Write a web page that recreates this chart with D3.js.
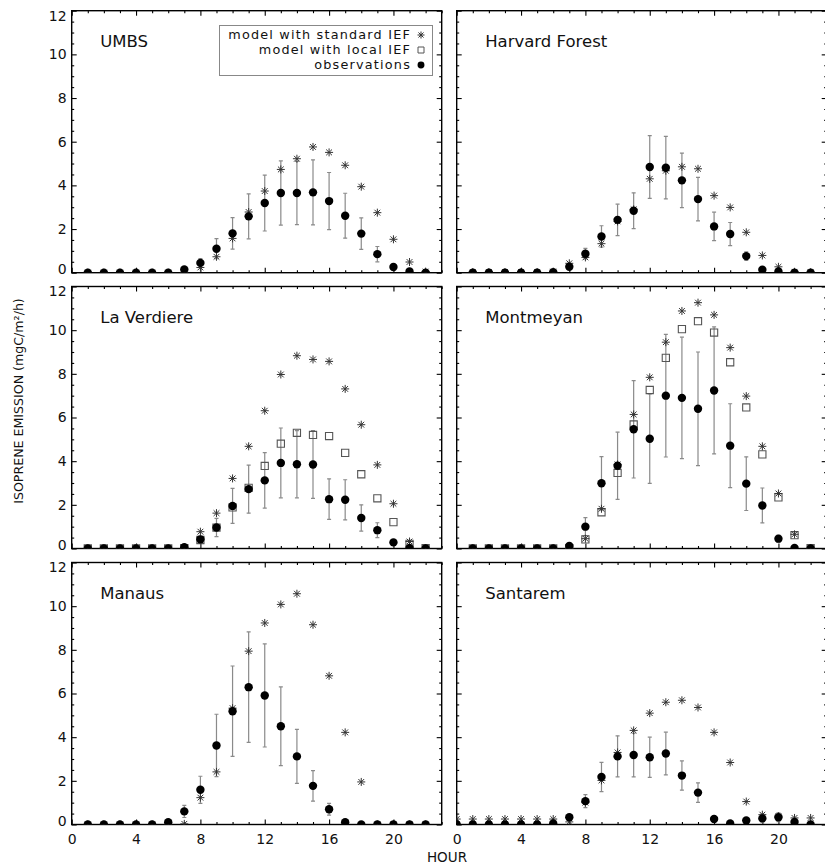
<!DOCTYPE html>
<html>
<head>
<meta charset="utf-8">
<script src="https://cdn.jsdelivr.net/npm/d3@7"></script>
<style>
  html, body { margin: 0; padding: 0; background: #fff; }
  svg { display: block; font-family: "DejaVu Sans", sans-serif; }
</style>
</head>
<body>
<svg id="chart" width="825" height="866"></svg>
<script>
// Hourly isoprene emission, hours 0..23 (null = no value)
const hours = d3.range(0, 24);
const siteNames = ["UMBS", "Harvard Forest", "La Verdiere", "Montmeyan", "Manaus", "Santarem"];
const xTickLabels = [0, 4, 8, 12, 16, 20];
const yTickLabels = [0, 2, 4, 6, 8, 10, 12];
const legendLabels = ["model with standard IEF", "model with local IEF", "observations"];

// UMBS
const umbsStd = [null, 0, 0, 0, 0, 0, 0, 0.02, 0.24, 0.73, 1.57, 2.78, 3.74, 4.73, 5.22, 5.76, 5.51, 4.92, 3.94, 2.75, 1.53, 0.49, 0.05, null];
const umbsLocal = [];
const umbsObs = [null, 0, 0, 0, 0, 0, 0, 0.15, 0.45, 1.1, 1.8, 2.58, 3.19, 3.65, 3.65, 3.68, 3.28, 2.61, 1.79, 0.85, 0.26, 0.06, 0, null];
const umbsSd = [null, 0, 0, 0, 0, 0, 0, 0, 0.2, 0.46, 0.72, 1.03, 1.28, 1.47, 1.45, 1.49, 1.31, 1.03, 0.72, 0.35, 0.05, 0, 0, null];

// Harvard Forest
const harvardStd = [null, 0.03, 0.03, 0.03, 0.03, 0.03, 0.05, 0.43, 0.7, 1.33, 2.35, 2.9, 4.3, 4.67, 4.85, 4.76, 3.53, 2.99, 1.85, 0.79, 0.27, 0.04, 0.02, null];
const harvardLocal = [];
const harvardObs = [null, 0, 0, 0, 0, 0, 0.02, 0.27, 0.87, 1.66, 2.42, 2.84, 4.84, 4.81, 4.23, 3.37, 2.12, 1.77, 0.76, 0.14, 0.06, 0, 0, null];
const harvardSd = [null, 0, 0, 0, 0, 0, 0, 0.05, 0.24, 0.49, 0.72, 0.82, 1.44, 1.43, 1.25, 1.0, 0.65, 0.53, 0.2, 0.05, 0, 0, 0, null];

// La Verdiere
const verdiereStd = [null, 0, 0, 0, 0, 0, 0, 0.02, 0.77, 1.62, 3.21, 4.68, 6.31, 7.97, 8.83, 8.66, 8.57, 7.31, 5.67, 3.83, 2.05, 0.32, 0.02, null];
const verdiereLocal = [null, 0, 0, 0, 0, 0, 0, 0.02, 0.39, 0.96, 1.88, 2.78, 3.78, 4.8, 5.3, 5.2, 5.15, 4.38, 3.4, 2.3, 1.21, 0.21, 0.02, null];
const verdiereObs = [null, 0, 0, 0, 0, 0, 0, 0.06, 0.42, 0.96, 1.95, 2.72, 3.12, 3.92, 3.86, 3.85, 2.26, 2.23, 1.4, 0.84, 0.28, 0.02, 0, null];
const verdiereSd = [null, 0, 0, 0, 0, 0, 0, 0, 0.1, 0.42, 0.8, 1.1, 1.27, 1.6, 1.54, 1.55, 0.93, 0.92, 0.6, 0.34, 0.05, 0, 0, null];

// Montmeyan
const montmeyanStd = [null, 0, 0, 0, 0, 0, 0, 0.02, 0.45, 1.82, 3.85, 6.14, 7.84, 9.45, 10.88, 11.26, 10.7, 9.2, 6.98, 4.68, 2.52, 0.65, 0.02, null];
const montmeyanLocal = [null, 0, 0, 0, 0, 0, 0, 0.02, 0.42, 1.66, 3.46, 5.68, 7.26, 8.73, 10.05, 10.41, 9.89, 8.53, 6.46, 4.31, 2.34, 0.61, 0.02, null];
const montmeyanObs = [null, 0, 0, 0, 0, 0, 0, 0.12, 1.0, 2.99, 3.79, 5.46, 5.03, 7.0, 6.9, 6.4, 7.24, 4.71, 2.97, 1.97, 0.45, 0.02, 0, null];
const montmeyanSd = [null, 0, 0, 0, 0, 0, 0, 0, 0.41, 1.22, 1.54, 2.23, 2.05, 2.81, 2.78, 2.6, 2.91, 1.92, 1.23, 0.8, 0.15, 0, 0, null];

// Manaus
const manausStd = [null, 0, 0, 0, 0, 0, 0, 0.03, 1.23, 2.41, 5.33, 7.94, 9.23, 10.08, 10.57, 9.15, 6.81, 4.22, 1.95, 0, 0, 0, 0, null];
const manausLocal = [];
const manausObs = [null, 0, 0, 0, 0, 0, 0.1, 0.6, 1.59, 3.62, 5.19, 6.29, 5.91, 4.5, 3.12, 1.77, 0.7, 0.1, 0, 0, 0, 0, 0, null];
const manausSd = [null, 0, 0, 0, 0, 0, 0, 0.28, 0.62, 1.43, 2.07, 2.53, 2.36, 1.8, 1.24, 0.7, 0.27, 0, 0, 0, 0, 0, 0, null];

// Santarem
const santaremStd = [0.25, 0.25, 0.25, 0.25, 0.25, 0.25, 0.25, 0.12, 1.0, 2.02, 3.3, 4.31, 5.1, 5.6, 5.69, 5.36, 4.22, 2.84, 1.05, 0.45, 0.38, 0.3, 0.3, null];
const santaremLocal = [];
const santaremObs = [0, 0, 0, 0, 0, 0, 0.05, 0.33, 1.07, 2.18, 3.12, 3.18, 3.08, 3.25, 2.24, 1.46, 0.25, 0.05, 0.18, 0.28, 0.33, 0.12, 0, null];
const santaremSd = [0, 0, 0, 0, 0, 0, 0, 0.05, 0.3, 0.67, 0.94, 1.0, 0.92, 0.98, 0.67, 0.45, 0.05, 0, 0, 0.2, 0.2, 0, 0, null];

const stdSeries = [umbsStd, harvardStd, verdiereStd, montmeyanStd, manausStd, santaremStd];
const localSeries = [umbsLocal, harvardLocal, verdiereLocal, montmeyanLocal, manausLocal, santaremLocal];
const obsSeries = [umbsObs, harvardObs, verdiereObs, montmeyanObs, manausObs, santaremObs];
const sdSeries = [umbsSd, harvardSd, verdiereSd, montmeyanSd, manausSd, santaremSd];

// ---- layout ----
const svg = d3.select("#chart");
const colX = [71.7, 456.7];
const rowY = [10.7, 286.5, 562.5];
const pw = 370, ph = 262;
const majorLen = 5, minorLen = 2.5;

// asterisk: vertical, horizontal and two diagonal strokes
function asterisk(r) {
  const a = r * 0.72;
  return `M0,${-r}L0,${r}M${-r},0L${r},0M${-a},${-a}L${a},${a}M${-a},${a}L${a},${-a}`;
}
const circlePath = d3.symbol(d3.symbolCircle, Math.PI * 4.2 * 4.2)();
const squarePath = d3.symbol(d3.symbolSquare, 7.2 * 7.2)();

siteNames.forEach((name, i) => {
  const col = i % 2, row = Math.floor(i / 2);
  const x0 = colX[col], y0 = rowY[row];
  const x = d3.scaleLinear().domain([0, 23]).range([x0, x0 + pw]);
  const y = d3.scaleLinear().domain([0, 12]).range([y0 + ph, y0]);

  const g = svg.append("g");
  const clipId = "clip" + i;
  svg.append("clipPath").attr("id", clipId)
    .append("rect").attr("x", x0).attr("y", y0).attr("width", pw).attr("height", ph);

  // ticks: inward on all four sides
  const axisStyle = sel => {
    sel.select(".domain").remove();
    sel.selectAll("line").attr("stroke", "#000").attr("stroke-width", 1.1);
    sel.selectAll("text").attr("fill", "#111").style("font-size", "14px").style("font-family", "DejaVu Sans, sans-serif");
  };
  const xMinor = d3.range(0, 24).filter(v => v % 4 !== 0);
  const yMinor = d3.range(0, 12.01, 0.5).filter(v => v % 2 !== 0);

  g.append("g").attr("transform", `translate(0,${y0 + ph})`)
    .call(d3.axisBottom(x).tickValues(xTickLabels).tickSizeInner(-majorLen).tickSizeOuter(0).tickPadding(10)
      .tickFormat(row === 2 ? d3.format("d") : () => ""))
    .call(axisStyle);
  g.append("g").attr("transform", `translate(0,${y0 + ph})`)
    .call(d3.axisBottom(x).tickValues(xMinor).tickSizeInner(-minorLen).tickSizeOuter(0).tickFormat(() => ""))
    .call(axisStyle);
  g.append("g").attr("transform", `translate(0,${y0})`)
    .call(d3.axisTop(x).tickValues(xTickLabels).tickSizeInner(-majorLen).tickSizeOuter(0).tickFormat(() => ""))
    .call(axisStyle);
  g.append("g").attr("transform", `translate(0,${y0})`)
    .call(d3.axisTop(x).tickValues(xMinor).tickSizeInner(-minorLen).tickSizeOuter(0).tickFormat(() => ""))
    .call(axisStyle);
  const yAxisG = g.append("g").attr("transform", `translate(${x0},0)`)
    .call(d3.axisLeft(y).tickValues(yTickLabels).tickSizeInner(-majorLen).tickSizeOuter(0).tickPadding(5)
      .tickFormat(col === 0 ? d3.format("d") : () => ""))
    .call(axisStyle);
  // end labels sit just inside the panel's vertical span
  yAxisG.selectAll("text")
    .attr("transform", d => d === 12 ? "translate(0,5)" : d === 0 ? "translate(0,-3.5)" : null);
  g.append("g").attr("transform", `translate(${x0},0)`)
    .call(d3.axisLeft(y).tickValues(yMinor).tickSizeInner(-minorLen).tickSizeOuter(0).tickFormat(() => ""))
    .call(axisStyle);
  g.append("g").attr("transform", `translate(${x0 + pw},0)`)
    .call(d3.axisRight(y).tickValues(yTickLabels).tickSizeInner(-majorLen).tickSizeOuter(0).tickFormat(() => ""))
    .call(axisStyle);
  g.append("g").attr("transform", `translate(${x0 + pw},0)`)
    .call(d3.axisRight(y).tickValues(yMinor).tickSizeInner(-minorLen).tickSizeOuter(0).tickFormat(() => ""))
    .call(axisStyle);

  // frame
  g.append("rect").attr("x", x0).attr("y", y0).attr("width", pw).attr("height", ph)
    .attr("fill", "none").attr("stroke", "#000").attr("stroke-width", 1.4);

  // site name
  g.append("text").attr("x", x0 + 28.5).attr("y", y0 + 36)
    .style("font-size", "16.5px").attr("fill", "#111").text(name);

  const marks = g.append("g").attr("clip-path", `url(#${clipId})`);
  const obs = obsSeries[i], sd = sdSeries[i];
  const barData = hours.filter(h => obs[h] != null && sd[h] > 0);

  // error bars on observations
  const bars = marks.append("g").attr("stroke", "#8a8a8a").attr("stroke-width", 1.2);
  bars.selectAll("line.v").data(barData).join("line").attr("class", "v")
    .attr("x1", h => x(h)).attr("x2", h => x(h))
    .attr("y1", h => y(obs[h] - sd[h])).attr("y2", h => y(obs[h] + sd[h]));
  bars.selectAll("line.t").data(barData).join("line").attr("class", "t")
    .attr("x1", h => x(h) - 2).attr("x2", h => x(h) + 2)
    .attr("y1", h => y(obs[h] + sd[h])).attr("y2", h => y(obs[h] + sd[h]));
  bars.selectAll("line.b").data(barData).join("line").attr("class", "b")
    .attr("x1", h => x(h) - 2).attr("x2", h => x(h) + 2)
    .attr("y1", h => y(obs[h] - sd[h])).attr("y2", h => y(obs[h] - sd[h]));

  // model with local IEF
  const local = localSeries[i];
  marks.append("g").selectAll("path").data(hours.filter(h => local[h] != null)).join("path")
    .attr("d", squarePath).attr("transform", h => `translate(${x(h)},${y(local[h])})`)
    .attr("fill", "none").attr("stroke", "#555").attr("stroke-width", 1.1);

  // model with standard IEF
  const std = stdSeries[i];
  marks.append("g").selectAll("path").data(hours.filter(h => std[h] != null)).join("path")
    .attr("d", asterisk(4)).attr("transform", h => `translate(${x(h)},${y(std[h])})`)
    .attr("fill", "none").attr("stroke", "#333").attr("stroke-width", 1);

  // observations
  marks.append("g").selectAll("path").data(hours.filter(h => obs[h] != null)).join("path")
    .attr("d", circlePath).attr("transform", h => `translate(${x(h)},${y(obs[h])})`)
    .attr("fill", "#000");
});

// legend (upper-left panel)
const lg = svg.append("g");
lg.append("rect").attr("x", 219.5).attr("y", 25.5).attr("width", 213).attr("height", 50)
  .attr("fill", "#fff").attr("stroke", "#888").attr("stroke-width", 1);
const legendY = [35, 50, 65];
lg.selectAll("text").data(legendLabels).join("text")
  .attr("x", 411).attr("y", (d, k) => legendY[k]).attr("dy", "0.35em")
  .attr("text-anchor", "end").style("font-size", "12.8px").style("letter-spacing", "1.2px")
  .attr("fill", "#111").text(d => d);
lg.append("path").attr("d", asterisk(3.5)).attr("transform", `translate(421,${legendY[0]})`)
  .attr("fill", "none").attr("stroke", "#333").attr("stroke-width", 1);
lg.append("path").attr("d", d3.symbol(d3.symbolSquare, 36)()).attr("transform", `translate(421,${legendY[1]})`)
  .attr("fill", "none").attr("stroke", "#555").attr("stroke-width", 1);
lg.append("path").attr("d", d3.symbol(d3.symbolCircle, Math.PI * 12)()).attr("transform", `translate(421,${legendY[2]})`)
  .attr("fill", "#000");

// axis titles
svg.append("text").attr("transform", "translate(19,401) rotate(-90)")
  .attr("text-anchor", "middle").attr("dy", "0.35em").style("font-size", "12.6px").attr("fill", "#111")
  .text("ISOPRENE EMISSION (mgC/m²/h)");
svg.append("text").attr("x", 447).attr("y", 857).attr("dy", "0.35em")
  .attr("text-anchor", "middle").style("font-size", "13.5px").attr("fill", "#111").text("HOUR");
</script>
</body>
</html>
